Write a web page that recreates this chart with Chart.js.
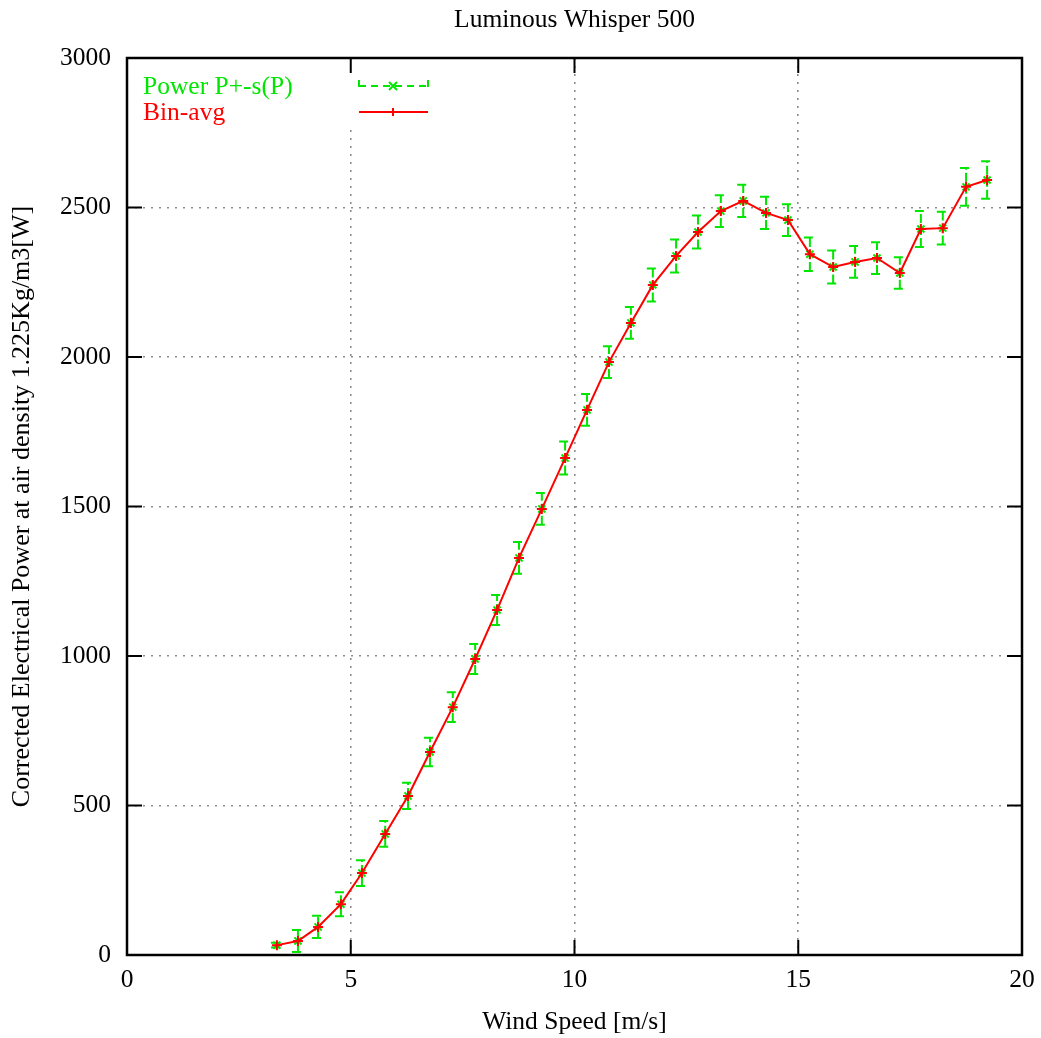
<!DOCTYPE html>
<html>
<head>
<meta charset="utf-8">
<title>Luminous Whisper 500</title>
<script src="https://cdn.jsdelivr.net/npm/chart.js@4.4.0/dist/chart.umd.min.js"></script>
<style>
  html, body { margin: 0; padding: 0; background: #fff; }
  #wrap { width: 1041px; height: 1038px; }
</style>
</head>
<body>
<div id="wrap"><canvas id="powerCurve" width="1041" height="1038"></canvas></div>
<script>
// Bin centres, averaged power and its standard deviation
const windSpeed = [3.35, 3.82, 4.27, 4.78, 5.25, 5.77, 6.28, 6.77, 7.28, 7.78,
    8.27, 8.76, 9.27, 9.79, 10.28, 10.77, 11.26, 11.75, 12.27, 12.76,
    13.27, 13.77, 14.28, 14.77, 15.26, 15.78, 16.27, 16.76, 17.27, 17.74,
    18.23, 18.75, 19.22];
const binAvg = [33, 47, 94, 170, 274, 405, 532, 679, 829, 990,
    1154, 1328, 1492, 1662, 1823, 1983, 2114, 2241, 2338, 2418,
    2488, 2522, 2482, 2458, 2344, 2301, 2318, 2331, 2281, 2428,
    2431, 2569, 2592];
const powerStd = [8, 37, 37, 40, 43, 43, 44, 48, 50, 50,
    50, 53, 53, 55, 53, 53, 53, 55, 55, 55,
    53, 54, 54, 53, 56, 55, 53, 53, 53, 60,
    55, 63, 63];
const xTicks = [0, 5, 10, 15, 20];
const yTicks = [0, 500, 1000, 1500, 2000, 2500, 3000];

const GREEN = '#00e600';
const RED = '#ff0000';
const FONT = "'Liberation Serif', 'Times New Roman', serif";

const points = windSpeed.map((x, i) => ({ x: x, y: binAvg[i] }));

// error bars, frame, inward ticks, titles and the key, gnuplot style
const gnuplotLook = {
    id: 'gnuplotLook',
    beforeDatasetsDraw(chart) {
        const { ctx, chartArea: a, scales: { x, y } } = chart;
        ctx.save();
        // key box hides the grid behind it
        ctx.fillStyle = '#fff';
        ctx.fillRect(a.left + 1, a.top + 1, 315, 70);

        ctx.strokeStyle = GREEN;
        ctx.lineWidth = 2;
        ctx.setLineDash([9, 3]);
        windSpeed.forEach((ws, i) => {
            const px = x.getPixelForValue(ws);
            const lo = y.getPixelForValue(binAvg[i] - powerStd[i]);
            const hi = y.getPixelForValue(binAvg[i] + powerStd[i]);
            ctx.beginPath();
            ctx.moveTo(px, lo); ctx.lineTo(px, hi);
            ctx.stroke();
            ctx.beginPath();
            ctx.moveTo(px - 6, lo); ctx.lineTo(px + 5, lo);
            ctx.moveTo(px - 6, hi); ctx.lineTo(px + 5, hi);
            ctx.stroke();
        });
        ctx.restore();
    },
    afterDatasetsDraw(chart) {
        const { ctx, chartArea: a, scales: { x, y } } = chart;
        ctx.save();
        // inward ticks on all four sides
        ctx.strokeStyle = '#000';
        ctx.lineWidth = 2;
        ctx.beginPath();
        xTicks.forEach(v => {
            const px = x.getPixelForValue(v);
            ctx.moveTo(px, a.bottom); ctx.lineTo(px, a.bottom - 15);
            ctx.moveTo(px, a.top); ctx.lineTo(px, a.top + 15);
        });
        yTicks.forEach(v => {
            const py = y.getPixelForValue(v);
            ctx.moveTo(a.left, py); ctx.lineTo(a.left + 15, py);
            ctx.moveTo(a.right, py); ctx.lineTo(a.right - 15, py);
        });
        ctx.stroke();
        ctx.lineWidth = 2.5;
        ctx.strokeRect(a.left, a.top, a.right - a.left, a.bottom - a.top);

        // key
        ctx.font = '25.5px ' + FONT;
        ctx.textBaseline = 'middle';
        ctx.textAlign = 'left';
        ctx.fillStyle = GREEN;
        ctx.fillText('Power P+-s(P)', a.left + 16, a.top + 29);
        ctx.fillStyle = RED;
        ctx.fillText('Bin-avg', a.left + 16, a.top + 55);

        const sx0 = a.left + 232, sx1 = a.left + 301, sxm = a.left + 266;
        ctx.strokeStyle = GREEN;
        ctx.lineWidth = 2;
        ctx.setLineDash([7, 5]);
        ctx.beginPath();
        ctx.moveTo(sx0, a.top + 28); ctx.lineTo(sx1, a.top + 28);
        ctx.moveTo(sx0, a.top + 22); ctx.lineTo(sx0, a.top + 34);
        ctx.moveTo(sx1, a.top + 22); ctx.lineTo(sx1, a.top + 34);
        ctx.stroke();
        ctx.setLineDash([]);
        ctx.beginPath();
        ctx.moveTo(sxm - 4, a.top + 24); ctx.lineTo(sxm + 4, a.top + 32);
        ctx.moveTo(sxm + 4, a.top + 24); ctx.lineTo(sxm - 4, a.top + 32);
        ctx.stroke();

        ctx.strokeStyle = RED;
        ctx.lineWidth = 2;
        ctx.beginPath();
        ctx.moveTo(sx0, a.top + 54); ctx.lineTo(sx1, a.top + 54);
        ctx.moveTo(sxm, a.top + 50); ctx.lineTo(sxm, a.top + 58);
        ctx.stroke();

        // titles
        ctx.fillStyle = '#000';
        ctx.textAlign = 'center';
        ctx.font = '25.5px ' + FONT;
        ctx.fillText('Luminous Whisper 500', (a.left + a.right) / 2, 20);
        ctx.fillText('Wind Speed [m/s]', (a.left + a.right) / 2, 1022);
        ctx.font = '26px ' + FONT;
        ctx.translate(22, (a.top + a.bottom) / 2);
        ctx.rotate(-Math.PI / 2);
        ctx.fillText('Corrected Electrical Power at air density 1.225Kg/m3[W]', 0, 0);
        ctx.restore();
    }
};

document.addEventListener('DOMContentLoaded', () => {
    const ctx = document.getElementById('powerCurve').getContext('2d');
    new Chart(ctx, {
        type: 'line',
        data: {
            datasets: [
                {
                    label: 'Bin-avg',
                    data: points,
                    borderColor: RED,
                    borderWidth: 2,
                    pointStyle: 'cross',
                    pointRadius: 5,
                    pointBorderWidth: 2,
                    pointBorderColor: RED,
                    tension: 0,
                    fill: false
                },
                {
                    label: 'Power P+-s(P)',
                    data: points,
                    showLine: false,
                    pointStyle: 'crossRot',
                    pointRadius: 5,
                    pointBorderWidth: 2,
                    pointBorderColor: GREEN,
                    borderColor: GREEN
                }
            ]
        },
        options: {
            responsive: false,
            animation: false,
            layout: { padding: { top: 58, right: 19, left: 0, bottom: 0 } },
            plugins: {
                legend: { display: false },
                title: { display: false },
                tooltip: { enabled: false }
            },
            scales: {
                x: {
                    type: 'linear',
                    min: 0,
                    max: 20,
                    afterFit: s => { s.height = 83; s.paddingLeft = 0; s.paddingRight = 0; },
                    afterBuildTicks: s => { s.ticks = xTicks.map(v => ({ value: v })); },
                    ticks: { color: '#000', padding: 10, font: { family: FONT, size: 25.5 },
                        callback: v => String(v) },
                    grid: { color: '#8c8c8c', lineWidth: 1.6, drawTicks: false },
                    border: { display: false, dash: [2, 6] }
                },
                y: {
                    type: 'linear',
                    min: 0,
                    max: 3000,
                    afterFit: s => { s.width = 127; s.paddingTop = 0; s.paddingBottom = 0; },
                    afterBuildTicks: s => { s.ticks = yTicks.map(v => ({ value: v })); },
                    ticks: { color: '#000', padding: 16, font: { family: FONT, size: 25.5 },
                        callback: v => String(v) },
                    grid: { color: '#8c8c8c', lineWidth: 1.6, drawTicks: false },
                    border: { display: false, dash: [2, 6] }
                }
            }
        },
        plugins: [gnuplotLook]
    });
});
</script>
</body>
</html>
